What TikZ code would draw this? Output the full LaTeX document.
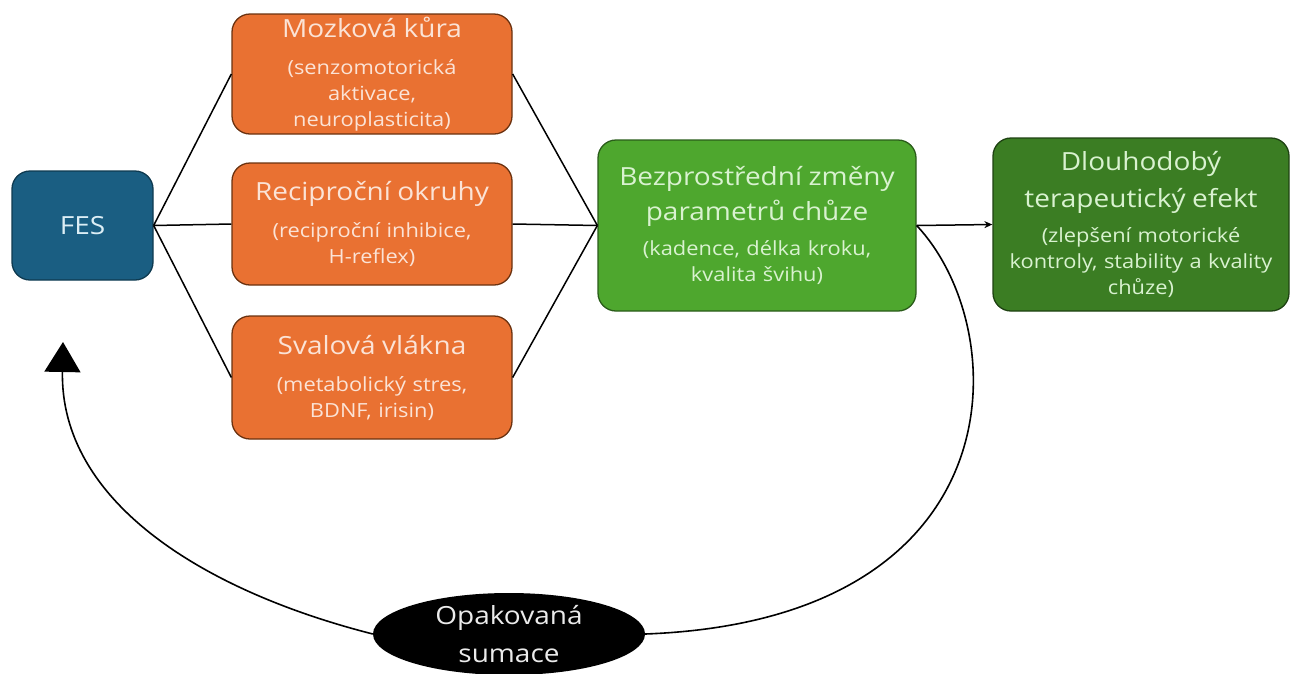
\documentclass[tikz,border=0pt]{standalone}
\usepackage{fontspec}
\setmainfont{Open Sans}[FakeStretch=1.12]
\usetikzlibrary{shapes.geometric,arrows.meta}
\definecolor{fesfill}{HTML}{1A5E82}
\definecolor{fesdraw}{HTML}{0E3A50}
\definecolor{festext}{HTML}{DCEEF5}
\definecolor{orfill}{HTML}{E97132}
\definecolor{ordraw}{HTML}{6B3210}
\definecolor{ortext}{HTML}{FBE3D6}
\definecolor{grfill}{HTML}{4EA72E}
\definecolor{grdraw}{HTML}{2A5C1A}
\definecolor{dgfill}{HTML}{3B7D23}
\definecolor{dgdraw}{HTML}{1E4212}
\definecolor{grtext}{HTML}{D9F2D0}
\newcommand{\titf}{\fontsize{25}{26}\selectfont}
\newcommand{\subf}{\fontsize{19.5}{26}\selectfont}
\begin{document}
\begin{tikzpicture}[x=1pt,y=-1pt,
  box/.style={rounded corners=18pt,line width=1.3pt,align=center,inner sep=0pt,font=\subf},
  fesbox/.style={box,fill=fesfill,draw=fesdraw,text=festext},
  orbox/.style={box,fill=orfill,draw=ordraw,text=ortext,minimum width=280pt,text width=274pt},
  grbox/.style={box,fill=grfill,draw=grdraw,text=grtext},
  dgbox/.style={box,fill=dgfill,draw=dgdraw,text=grtext},
  link/.style={line width=1.5pt,black},
  loop/.style={line width=1.6pt,black}]
\useasboundingbox (0,0) rectangle (1290,673);
\node[fesbox,minimum width=141pt,minimum height=109pt,font=\titf] (fes) at (82.5,225.5) {FES};
\node[orbox,minimum height=120pt] (moz) at (372,74)
  {{\titf Mozková kůra}\\[11pt](senzomotorická\\aktivace,\\neuroplasticita)};
\node[orbox,minimum height=122pt] (rec) at (372,224)
  {{\titf Reciproční okruhy}\\[11pt](reciproční inhibice,\\H-reflex)};
\node[orbox,minimum height=123pt] (sval) at (372,377.5)
  {{\titf Svalová vlákna}\\[11pt](metabolický stres,\\BDNF, irisin)};
\node[grbox,minimum width=318pt,minimum height=171pt,text width=312pt] (bez) at (757,225.5)
  {{\titf Bezprostřední změny}\\[8pt]{\titf parametrů chůze}\\[9pt](kadence, délka kroku,\\kvalita švihu)};
\node[dgbox,minimum width=296pt,minimum height=173pt,text width=292pt] (dlo) at (1141,224.5)
  {{\titf Dlouhodobý}\\[11pt]{\titf terapeutický efekt}\\[9pt](zlepšení motorické\\kontroly, stability a kvality\\chůze)};
\node[ellipse,fill=black,text=white!92!black,minimum width=272pt,minimum height=82pt,inner sep=0pt,
  align=center,font=\fontsize{25}{38}\selectfont] (opa) at (509,634) {Opakovaná\\sumace};
\coordinate (tip) at (63,342);
\foreach \n in {moz,rec,sval}{
  \draw[link] (fes.east) -- (\n.west);
  \draw[link] (\n.east) -- (bez.west);
}
\draw[link,-{Stealth[length=8pt,width=7pt]}] (bez.east) -- (dlo.west);
\draw[loop] (bez.east) .. controls (1015,330) and (1020,620) .. (opa.east);
\draw[loop,-{Triangle[length=30pt,width=36pt]}] (opa.west) .. controls (200,590) and (60,500) .. (tip);
\end{tikzpicture}
\end{document}
